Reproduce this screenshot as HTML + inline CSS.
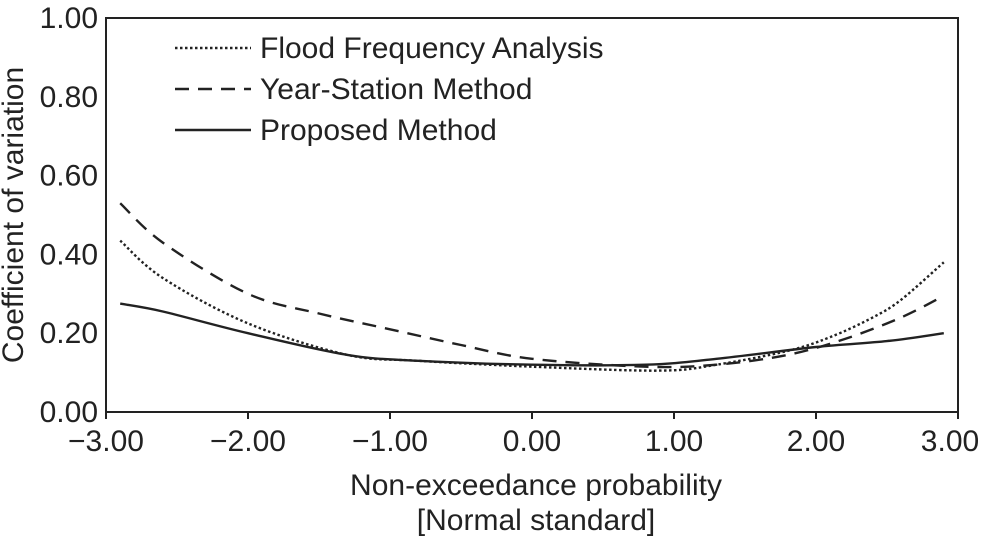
<!DOCTYPE html>
<html><head><meta charset="utf-8"><style>
body{margin:0;background:#fff}
text{font-family:"Liberation Sans",sans-serif;fill:#222}
</style></head><body>
<svg id="chart" width="981" height="536" xmlns="http://www.w3.org/2000/svg">
<g id="axes"></g>
<g id="series"></g>
<g id="legend"></g>
</svg>
<script>
const xTicks=[-3,-2,-1,0,1,2,3];
const xTickLabels=["\u22123.00","\u22122.00","\u22121.00","0.00","1.00","2.00","3.00"];
const yTicks=[0,0.2,0.4,0.6,0.8,1.0];
const yTickLabels=["0.00","0.20","0.40","0.60","0.80","1.00"];
const ffaX=[-2.9,-2.6,-2.0,-1.3,-0.8,0,0.9,1.3,1.8,2.1,2.4,2.6,2.9];
const ffaY=[0.435,0.34,0.225,0.145,0.13,0.115,0.105,0.12,0.155,0.19,0.24,0.285,0.38];
const ysmX=[-2.9,-2.6,-2.0,-1.5,-1.0,-0.5,0,0.8,1.3,1.8,2.2,2.6,2.9];
const ysmY=[0.53,0.43,0.30,0.25,0.21,0.17,0.135,0.115,0.12,0.145,0.185,0.24,0.295];
const pmX=[-2.9,-2.6,-2.0,-1.3,-0.8,0,0.8,1.3,2.0,2.5,2.9];
const pmY=[0.275,0.255,0.20,0.145,0.13,0.12,0.12,0.135,0.165,0.18,0.20];
const X0=106,X1=958,Y0=412,Y1=18;
const sx=v=>X0+(v+3)/6*(X1-X0);
const sy=v=>Y0-v*(Y0-Y1);
const NS="http://www.w3.org/2000/svg";
function mk(t,a,p){const e=document.createElementNS(NS,t);for(const k in a)e.setAttribute(k,a[k]);p.appendChild(e);return e;}
const ax=document.getElementById('axes');
const frame=mk('rect',{x:X0,y:Y1,width:X1-X0,height:Y0-Y1,fill:'none',stroke:'#222','stroke-width':2},ax);


xTicks.forEach((v,i)=>{
 const t=mk('line',{x1:sx(v),x2:sx(v),y1:Y0,y2:Y0+7,stroke:'#222','stroke-width':2},ax);
 
 
 const l=mk('text',{x:i===xTicks.length-1?sx(v)-8:sx(v),y:451,'text-anchor':'middle','font-size':30},ax);
 l.textContent=xTickLabels[i];
 
 
});
yTicks.forEach((v,i)=>{
 const l=mk('text',{x:98,y:sy(v)+10,'text-anchor':'end','font-size':30},ax);
 l.textContent=yTickLabels[i];
 
 
});
const xt=mk('text',{x:536,y:495,'text-anchor':'middle','font-size':30},ax);
xt.textContent="Non-exceedance probability";


const xt2=mk('text',{x:536,y:530,'text-anchor':'middle','font-size':30},ax);
xt2.textContent="[Normal standard]";


const yt=mk('text',{x:0,y:0,'text-anchor':'middle','font-size':30,transform:'translate(23,215) rotate(-90)'},ax);
yt.textContent="Coefficient of variation";


const sg=document.getElementById('series');
function line(xs,ys,dash,name){
 const P=xs.map((x,i)=>[sx(x),sy(ys[i])]);
 let d='M'+P[0][0].toFixed(1)+' '+P[0][1].toFixed(1);
 for(let i=0;i<P.length-1;i++){
  const p0=P[Math.max(0,i-1)],p1=P[i],p2=P[i+1],p3=P[Math.min(P.length-1,i+2)];
  const c1=[p1[0]+(p2[0]-p0[0])/6,p1[1]+(p2[1]-p0[1])/6];
  const c2=[p2[0]-(p3[0]-p1[0])/6,p2[1]-(p3[1]-p1[1])/6];
  d+=' C'+c1.map(v=>v.toFixed(1)).join(' ')+' '+c2.map(v=>v.toFixed(1)).join(' ')+' '+p2.map(v=>v.toFixed(1)).join(' ');
 }
 const p=mk('path',{d:d,fill:'none',stroke:'#222','stroke-width':2.4,'stroke-dasharray':dash},sg);
 
 
}
line(ffaX,ffaY,'2.5 2.5','flood-frequency-line');
line(ysmX,ysmY,'14 9','year-station-line');
line(pmX,pmY,'none','proposed-method-line');
const lg=document.getElementById('legend');
[['Flood Frequency Analysis','2.5 2.5',48],['Year-Station Method','14 9',89],['Proposed Method','none',130]].forEach(r=>{
 const l=mk('line',{x1:175,x2:251,y1:r[2],y2:r[2],stroke:'#222','stroke-width':2.4,'stroke-dasharray':r[1]},lg);
 
 
 const t=mk('text',{x:260,y:r[2]+10,'font-size':30},lg);
 t.textContent=r[0];
 
 
});
</script>
</body></html>
